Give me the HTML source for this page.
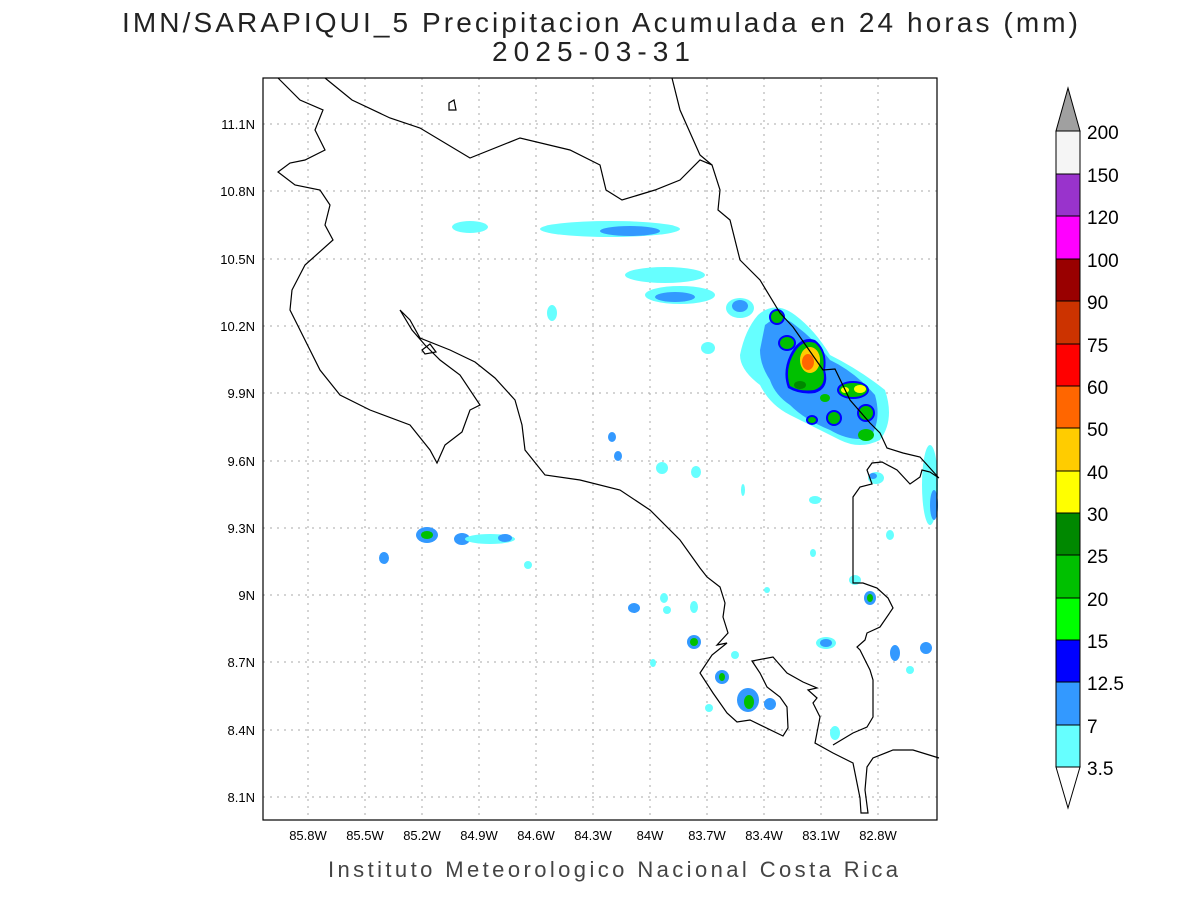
<!DOCTYPE html>
<html><head><meta charset="utf-8"><style>
body{margin:0;background:#fff;}
svg text{font-family:"Liberation Sans",sans-serif;}
</style></head><body>
<svg width="1200" height="900" xmlns="http://www.w3.org/2000/svg">
<rect width="1200" height="900" fill="#fff"/>
<text x="122" y="32" font-size="28" fill="#222" textLength="956" lengthAdjust="spacing">IMN/SARAPIQUI_5 Precipitacion Acumulada en 24 horas (mm)</text>
<text x="492" y="61" font-size="28" fill="#222" textLength="198" lengthAdjust="spacing">2025-03-31</text>
<g stroke="#aaa" stroke-dasharray="2,5" stroke-width="1">
<line x1="308" y1="78" x2="308" y2="820"/><line x1="365" y1="78" x2="365" y2="820"/><line x1="422" y1="78" x2="422" y2="820"/><line x1="479" y1="78" x2="479" y2="820"/><line x1="536" y1="78" x2="536" y2="820"/><line x1="593" y1="78" x2="593" y2="820"/><line x1="650" y1="78" x2="650" y2="820"/><line x1="707" y1="78" x2="707" y2="820"/><line x1="764" y1="78" x2="764" y2="820"/><line x1="821" y1="78" x2="821" y2="820"/><line x1="878" y1="78" x2="878" y2="820"/>
<line x1="263" y1="124" x2="937" y2="124"/><line x1="263" y1="191" x2="937" y2="191"/><line x1="263" y1="259" x2="937" y2="259"/><line x1="263" y1="326" x2="937" y2="326"/><line x1="263" y1="393" x2="937" y2="393"/><line x1="263" y1="461" x2="937" y2="461"/><line x1="263" y1="528" x2="937" y2="528"/><line x1="263" y1="595" x2="937" y2="595"/><line x1="263" y1="662" x2="937" y2="662"/><line x1="263" y1="730" x2="937" y2="730"/><line x1="263" y1="797" x2="937" y2="797"/>
</g>
<!-- rain -->
<g>
<ellipse cx="470" cy="227" rx="18" ry="6" fill="#66ffff"/>
<ellipse cx="610" cy="229" rx="70" ry="8" fill="#66ffff"/><ellipse cx="630" cy="231" rx="30" ry="5" fill="#3399ff"/>
<ellipse cx="665" cy="275" rx="40" ry="8" fill="#66ffff"/><ellipse cx="680" cy="295" rx="35" ry="9" fill="#66ffff"/><ellipse cx="675" cy="297" rx="20" ry="5" fill="#3399ff"/>
<ellipse cx="740" cy="308" rx="14" ry="10" fill="#66ffff"/><ellipse cx="740" cy="306" rx="8" ry="6" fill="#3399ff"/>
<ellipse cx="552" cy="313" rx="5" ry="8" fill="#66ffff"/>
<path d="M758 315 Q775 300 795 315 Q815 330 830 355 Q860 370 885 390 Q895 420 880 440 Q860 450 840 440 Q810 425 790 415 Q770 405 760 385 Q740 370 740 355 Q745 330 758 315Z" fill="#66ffff"/>
<path d="M765 325 Q780 312 795 325 Q815 340 830 360 Q855 372 875 395 Q882 420 870 438 Q850 442 830 430 Q805 420 790 405 Q775 395 770 380 Q760 365 760 350Z" fill="#3399ff"/>
<path d="M790 355 Q800 335 815 340 Q828 350 825 370 Q830 388 815 393 Q800 395 788 388 Q782 372 790 355Z" fill="#0000ff"/>
<path d="M792 357 Q801 338 815 343 Q826 352 823 370 Q827 386 814 390 Q800 392 790 386 Q785 372 792 357Z" fill="#00c000"/>
<ellipse cx="810" cy="360" rx="10" ry="13" fill="#ffcc00"/>
<ellipse cx="808" cy="362" rx="6" ry="8" fill="#ff6600"/>
<ellipse cx="800" cy="385" rx="6" ry="4" fill="#008800"/>
<ellipse cx="777" cy="317" rx="8" ry="8" fill="#0000ff"/><ellipse cx="777" cy="317" rx="6" ry="6" fill="#00c000"/>
<ellipse cx="787" cy="343" rx="9" ry="8" fill="#0000ff"/><ellipse cx="787" cy="343" rx="7" ry="6" fill="#00c000"/>
<ellipse cx="853" cy="390" rx="16" ry="9" fill="#0000ff"/><ellipse cx="853" cy="390" rx="14" ry="7" fill="#00c000"/><ellipse cx="845" cy="390" rx="4" ry="3" fill="#ffff00"/><ellipse cx="860" cy="389" rx="6" ry="4" fill="#ffff00"/>
<ellipse cx="834" cy="418" rx="8" ry="8" fill="#0000ff"/><ellipse cx="834" cy="418" rx="6" ry="6" fill="#00c000"/>
<ellipse cx="866" cy="413" rx="9" ry="9" fill="#0000ff"/><ellipse cx="866" cy="413" rx="7" ry="7" fill="#00c000"/>
<ellipse cx="812" cy="420" rx="6" ry="5" fill="#0000ff"/><ellipse cx="812" cy="420" rx="4" ry="3" fill="#00c000"/>
<ellipse cx="866" cy="435" rx="8" ry="6" fill="#00c000"/><ellipse cx="825" cy="398" rx="5" ry="4" fill="#00c000"/>
<ellipse cx="708" cy="348" rx="7" ry="6" fill="#66ffff"/>
<ellipse cx="930" cy="485" rx="8" ry="40" fill="#66ffff"/><ellipse cx="934" cy="505" rx="4" ry="15" fill="#3399ff"/>
<ellipse cx="612" cy="437" rx="4" ry="5" fill="#3399ff"/><ellipse cx="618" cy="456" rx="4" ry="5" fill="#3399ff"/>
<ellipse cx="662" cy="468" rx="6" ry="6" fill="#66ffff"/><ellipse cx="696" cy="472" rx="5" ry="6" fill="#66ffff"/>
<ellipse cx="876" cy="478" rx="8" ry="6" fill="#66ffff"/><ellipse cx="873" cy="476" rx="4" ry="3" fill="#3399ff"/>
<ellipse cx="427" cy="535" rx="11" ry="8" fill="#3399ff"/><ellipse cx="427" cy="535" rx="6" ry="4" fill="#00c000"/>
<ellipse cx="462" cy="539" rx="8" ry="6" fill="#3399ff"/><ellipse cx="490" cy="539" rx="25" ry="5" fill="#66ffff"/><ellipse cx="505" cy="538" rx="7" ry="4" fill="#3399ff"/>
<ellipse cx="384" cy="558" rx="5" ry="6" fill="#3399ff"/><ellipse cx="528" cy="565" rx="4" ry="4" fill="#66ffff"/>
<ellipse cx="634" cy="608" rx="6" ry="5" fill="#3399ff"/><ellipse cx="664" cy="598" rx="4" ry="5" fill="#66ffff"/><ellipse cx="667" cy="610" rx="4" ry="4" fill="#66ffff"/><ellipse cx="694" cy="607" rx="4" ry="6" fill="#66ffff"/>
<ellipse cx="694" cy="642" rx="7" ry="7" fill="#3399ff"/><ellipse cx="694" cy="642" rx="4" ry="4" fill="#00c000"/>
<ellipse cx="722" cy="677" rx="7" ry="7" fill="#3399ff"/><ellipse cx="722" cy="677" rx="3" ry="4" fill="#00c000"/>
<ellipse cx="748" cy="700" rx="11" ry="12" fill="#3399ff"/><ellipse cx="749" cy="702" rx="5" ry="7" fill="#00c000"/><ellipse cx="770" cy="704" rx="6" ry="6" fill="#3399ff"/>
<ellipse cx="735" cy="655" rx="4" ry="4" fill="#66ffff"/><ellipse cx="709" cy="708" rx="4" ry="4" fill="#66ffff"/><ellipse cx="653" cy="663" rx="3" ry="4" fill="#66ffff"/>
<ellipse cx="826" cy="643" rx="10" ry="6" fill="#66ffff"/><ellipse cx="826" cy="643" rx="6" ry="4" fill="#3399ff"/>
<ellipse cx="870" cy="598" rx="6" ry="7" fill="#3399ff"/><ellipse cx="870" cy="598" rx="3" ry="4" fill="#00c000"/>
<ellipse cx="895" cy="653" rx="5" ry="8" fill="#3399ff"/><ellipse cx="926" cy="648" rx="6" ry="6" fill="#3399ff"/><ellipse cx="910" cy="670" rx="4" ry="4" fill="#66ffff"/><ellipse cx="835" cy="733" rx="5" ry="7" fill="#66ffff"/><ellipse cx="855" cy="580" rx="6" ry="5" fill="#66ffff"/><ellipse cx="890" cy="535" rx="4" ry="5" fill="#66ffff"/><ellipse cx="815" cy="500" rx="6" ry="4" fill="#66ffff"/><ellipse cx="767" cy="590" rx="3" ry="3" fill="#66ffff"/><ellipse cx="743" cy="490" rx="2" ry="6" fill="#66ffff"/><ellipse cx="813" cy="553" rx="3" ry="4" fill="#66ffff"/>
</g>
<!-- coast -->
<g fill="none" stroke="#000" stroke-width="1.2">
<path d="M278 78 L300 100 L323 110 L315 130 L325 150 L305 160 L290 163 L278 172 L295 185 L320 190 L330 205 L325 225 L333 240 L305 265 L292 290 L290 310 L300 330 L320 370 L340 395 L370 410 L410 425 L430 450 L437 463 L445 445 L462 432 L470 410 L480 405 L460 375 L440 360 L425 345 L412 330 L400 310 L410 320 L420 338 L450 350 L475 362 L495 378 L515 400 L522 425 L525 450 L545 475 L580 480 L620 490 L650 510 L680 540 L700 568 L707 577 L720 587 L725 603 L723 617 L728 633 L717 645 L727 643 L712 655 L700 673 L713 693 L727 713 L737 722 L750 720 L783 736 L788 728 L787 707 L780 697 L767 687 L760 673 L752 661 L773 657 L787 673 L803 682 L817 688 L808 690 L817 698 L813 703 L820 717 L815 743 L833 753 L853 763 L860 798 L861 813 L868 813 L865 790 L867 767 L873 758 L893 750 L913 750 L939 758"/>
<path d="M833 745 L853 733 L867 727 L873 717 L873 680 L870 670 L860 650 L857 647 L865 640 L867 633 L880 627 L893 608 L888 598 L877 588 L863 583 L853 583 L853 497 L860 487 L872 484 L867 470 L872 463 L882 462 L897 470 L910 484 L920 477 L922 470 L930 472 L939 478"/>
<path d="M325 78 L352 100 L390 118 L420 128 L470 158 L520 138 L570 150 L600 165 L606 190 L622 200 L655 190 L680 180 L700 160 L712 165 L720 190 L718 210 L730 220 L740 260 L760 280 L780 313 L793 327 L823 370 L835 369 L850 400 L870 423 L880 433 L887 448 L903 453 L920 457 L938 477"/>
<path d="M672 78 L680 110 L700 155 L712 165"/>
<path d="M422 350 L430 344 L436 352 L425 354Z"/>
<path d="M449 103 L454 100 L456 110 L449 110Z"/>
</g>
<rect x="263" y="78" width="674" height="742" fill="none" stroke="#000" stroke-width="1.2"/>
<g font-size="13" fill="#000" text-anchor="end">
<text x="255" y="129">11.1N</text><text x="255" y="196">10.8N</text><text x="255" y="264">10.5N</text><text x="255" y="331">10.2N</text><text x="255" y="398">9.9N</text><text x="255" y="466">9.6N</text><text x="255" y="533">9.3N</text><text x="255" y="600">9N</text><text x="255" y="667">8.7N</text><text x="255" y="735">8.4N</text><text x="255" y="802">8.1N</text>
</g>
<g font-size="13" fill="#000" text-anchor="middle">
<text x="308" y="840">85.8W</text><text x="365" y="840">85.5W</text><text x="422" y="840">85.2W</text><text x="479" y="840">84.9W</text><text x="536" y="840">84.6W</text><text x="593" y="840">84.3W</text><text x="650" y="840">84W</text><text x="707" y="840">83.7W</text><text x="764" y="840">83.4W</text><text x="821" y="840">83.1W</text><text x="878" y="840">82.8W</text>
</g>
<text x="328" y="877" font-size="22" fill="#444" textLength="570" lengthAdjust="spacing">Instituto Meteorologico Nacional Costa Rica</text>
<!-- colorbar -->
<g stroke="#000" stroke-width="1">
<polygon points="1056,131 1080,131 1068,88" fill="#a0a0a0"/>
<rect x="1056" y="131" width="24" height="43" fill="#f5f5f5"/>
<rect x="1056" y="174" width="24" height="42" fill="#9933cc"/>
<rect x="1056" y="216" width="24" height="43" fill="#ff00ff"/>
<rect x="1056" y="259" width="24" height="42" fill="#990000"/>
<rect x="1056" y="301" width="24" height="43" fill="#cc3300"/>
<rect x="1056" y="344" width="24" height="42" fill="#ff0000"/>
<rect x="1056" y="386" width="24" height="42" fill="#ff6600"/>
<rect x="1056" y="428" width="24" height="43" fill="#ffcc00"/>
<rect x="1056" y="471" width="24" height="42" fill="#ffff00"/>
<rect x="1056" y="513" width="24" height="42" fill="#008800"/>
<rect x="1056" y="555" width="24" height="43" fill="#00c000"/>
<rect x="1056" y="598" width="24" height="42" fill="#00ff00"/>
<rect x="1056" y="640" width="24" height="42" fill="#0000ff"/>
<rect x="1056" y="682" width="24" height="43" fill="#3399ff"/>
<rect x="1056" y="725" width="24" height="42" fill="#66ffff"/>
<polygon points="1056,767 1080,767 1068,808" fill="#fff"/>
</g>
<g font-size="19" fill="#000">
<text x="1087" y="139">200</text><text x="1087" y="182">150</text><text x="1087" y="224">120</text><text x="1087" y="267">100</text><text x="1087" y="309">90</text><text x="1087" y="352">75</text><text x="1087" y="394">60</text><text x="1087" y="436">50</text><text x="1087" y="479">40</text><text x="1087" y="521">30</text><text x="1087" y="563">25</text><text x="1087" y="606">20</text><text x="1087" y="648">15</text><text x="1087" y="690">12.5</text><text x="1087" y="733">7</text><text x="1087" y="775">3.5</text>
</g>
</svg>
</body></html>
